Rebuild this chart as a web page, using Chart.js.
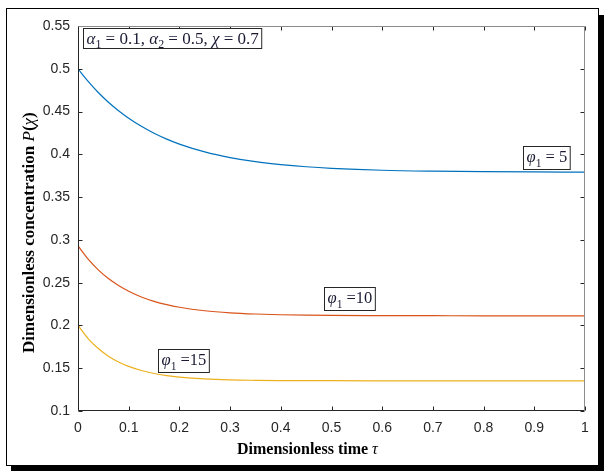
<!DOCTYPE html>
<html>
<head>
<meta charset="utf-8">
<script src="https://cdn.jsdelivr.net/npm/chart.js@4/dist/chart.umd.min.js"></script>
<style>
  body { margin: 0; background: #fff; }
  #frame { position: absolute; left: 6px; top: 8px; width: 591px; height: 456px; border: 1px solid #000; box-shadow: 5px 7px 0 #000; background: #fff; }
  #c { position: absolute; left: 0; top: 0; }
</style>
</head>
<body>
<div id="frame"></div>
<canvas id="c" width="605" height="471"></canvas>
<script>
// dimensionless time samples
const tau = [0, 0.02, 0.04, 0.06, 0.08, 0.1, 0.125, 0.15, 0.175, 0.2, 0.25, 0.3, 0.35, 0.4, 0.45, 0.5, 0.6, 0.7, 0.8, 0.9, 1];
// concentration P(chi) for phi1 = 5, 10, 15
const phi5 = [0.500, 0.4853, 0.4723, 0.4609, 0.451, 0.4422, 0.4327, 0.4246, 0.4178, 0.412, 0.4028, 0.3962, 0.3914, 0.388, 0.3855, 0.3837, 0.3814, 0.3803, 0.3797, 0.3794, 0.3792];
const phi10 = [0.293, 0.2775, 0.265, 0.2548, 0.2466, 0.2399, 0.2333, 0.2282, 0.2243, 0.2213, 0.2172, 0.2148, 0.2134, 0.2125, 0.212, 0.2117, 0.2115, 0.2114, 0.2113, 0.2113, 0.2113];
const phi15 = [0.200, 0.1847, 0.173, 0.1641, 0.1573, 0.1521, 0.1473, 0.1438, 0.1414, 0.1397, 0.1375, 0.1364, 0.1359, 0.1356, 0.1355, 0.1354, 0.1353, 0.1353, 0.1353, 0.1353, 0.1353];

const xTicks = [0, 0.1, 0.2, 0.3, 0.4, 0.5, 0.6, 0.7, 0.8, 0.9, 1];
const yTicks = [0.1, 0.15, 0.2, 0.25, 0.3, 0.35, 0.4, 0.45, 0.5, 0.55];

// text boxes, anchored in data coordinates (left edge, vertical centre)
const notes = [
  { x: 0.01, y: 0.5354, size: 17, h: 20, runs: [['α', 'i'], ['1', 's'], [' = 0.1, '], ['α', 'i'], ['2', 's'], [' = 0.5, '], ['χ', 'i'], [' = 0.7']] },
  { x: 0.878, y: 0.3963, size: 16.5, h: 23, runs: [['φ', 'i'], ['1', 's'], [' = 5']] },
  { x: 0.485, y: 0.2315, size: 16.5, h: 23, runs: [['φ', 'i'], ['1', 's'], [' =10']] },
  { x: 0.158, y: 0.159, size: 16.5, h: 23, runs: [['φ', 'i'], ['1', 's'], [' =15']] }
];

const SERIF = '"Liberation Serif", "Times New Roman", serif';

function runFont(r, size, bold) {
  const st = r[1] || '';
  const sz = st === 's' ? size * 0.7 : size;
  return (st === 'i' ? 'italic ' : '') + (bold && st !== 'i' ? 'bold ' : '') + sz + 'px ' + SERIF;
}

function runsWidth(ctx, runs, size, bold) {
  let w = 0;
  runs.forEach(r => { ctx.font = runFont(r, size, bold); w += ctx.measureText(r[0]).width; });
  return w;
}

function drawRuns(ctx, runs, x, y, size, bold) {
  runs.forEach(r => {
    ctx.font = runFont(r, size, bold);
    const dy = r[1] === 's' ? size * 0.28 : 0;
    ctx.fillText(r[0], x, y + dy);
    x += ctx.measureText(r[0]).width;
  });
}

const decor = {
  id: 'decor',
  afterDatasetsDraw(chart) {
    const { ctx, chartArea: a, scales: { x, y } } = chart;
    ctx.save();
    const L = a.left + 0.5, R = a.right - 0.5, T = a.top + 0.5, B = a.bottom - 0.5;

    // inward ticks on all four sides
    ctx.lineWidth = 1;
    ctx.strokeStyle = '#262626';
    ctx.beginPath();
    xTicks.forEach(v => {
      const p = Math.round(x.getPixelForValue(v)) + 0.5;
      ctx.moveTo(p, B); ctx.lineTo(p, B - 4);
      ctx.moveTo(p, T); ctx.lineTo(p, T + 4);
    });
    yTicks.forEach(v => {
      const p = Math.round(y.getPixelForValue(v)) + 0.5;
      ctx.moveTo(L, p); ctx.lineTo(L + 4, p);
      ctx.moveTo(R, p); ctx.lineTo(R - 4, p);
    });
    ctx.stroke();

    // axes box
    ctx.strokeStyle = '#262626';
    ctx.beginPath();
    ctx.moveTo(L, T); ctx.lineTo(L, B); ctx.lineTo(R, B);
    ctx.stroke();
    ctx.strokeStyle = '#8c8c8c';
    ctx.beginPath();
    ctx.moveTo(L, T); ctx.lineTo(R, T); ctx.lineTo(R, B);
    ctx.stroke();

    // annotation boxes
    ctx.textBaseline = 'alphabetic';
    notes.forEach(n => {
      const w = runsWidth(ctx, n.runs, n.size, false);
      const bx = Math.round(x.getPixelForValue(n.x)) + 0.5;
      const cy = y.getPixelForValue(n.y);
      const by = Math.round(cy - n.h / 2) + 0.5;
      ctx.fillStyle = '#fff';
      ctx.fillRect(bx, by, w + 6, n.h);
      ctx.strokeStyle = '#262626';
      ctx.strokeRect(bx, by, w + 6, n.h);
      ctx.fillStyle = '#1a1a33';
      drawRuns(ctx, n.runs, bx + 3, cy + n.size * 0.3, n.size, false);
    });

    // axis titles
    ctx.fillStyle = '#000';
    drawRuns(ctx, [['Dimensionless time '], ['τ', 'i']], 237, 454, 16, true);
    ctx.translate(34, 353);
    ctx.rotate(-Math.PI / 2);
    drawRuns(ctx, [['Dimensionless concentration '], ['P', 'i'], ['('], ['χ', 'i'], [')']], 0, 0, 17, true);
    ctx.restore();
  }
};

const pts = arr => tau.map((t, i) => ({ x: t, y: arr[i] }));
const line = (data, color) => ({
  data: pts(data), borderColor: color, borderWidth: 1.2,
  pointRadius: 0, fill: false, cubicInterpolationMode: 'monotone'
});

const fmt = v => String(+v.toFixed(2));

new Chart(document.getElementById('c'), {
  type: 'line',
  data: {
    datasets: [
      line(phi5, '#0072BD'),
      line(phi10, '#D95319'),
      line(phi15, '#EDB120')
    ]
  },
  options: {
    responsive: false,
    animation: false,
    layout: { padding: { top: 26, right: 20, left: 0, bottom: 0 } },
    plugins: { legend: { display: false }, tooltip: { enabled: false } },
    scales: {
      x: {
        type: 'linear', min: 0, max: 1,
        afterBuildTicks: s => { s.ticks = xTicks.map(v => ({ value: v })); },
        afterFit: s => { s.height = 60; },
        grid: { display: false, drawTicks: false },
        border: { display: false },
        ticks: { padding: 9, color: '#262626', font: { family: '"Liberation Sans", Arial, sans-serif', size: 14 }, callback: fmt, maxRotation: 0, autoSkip: false }
      },
      y: {
        min: 0.1, max: 0.55,
        afterBuildTicks: s => { s.ticks = yTicks.map(v => ({ value: v })); },
        afterFit: s => { s.width = 78; },
        grid: { display: false, drawTicks: false },
        border: { display: false },
        ticks: { padding: 8, color: '#262626', font: { family: '"Liberation Sans", Arial, sans-serif', size: 14 }, callback: fmt, autoSkip: false }
      }
    }
  },
  plugins: [decor]
});
</script>
</body>
</html>
